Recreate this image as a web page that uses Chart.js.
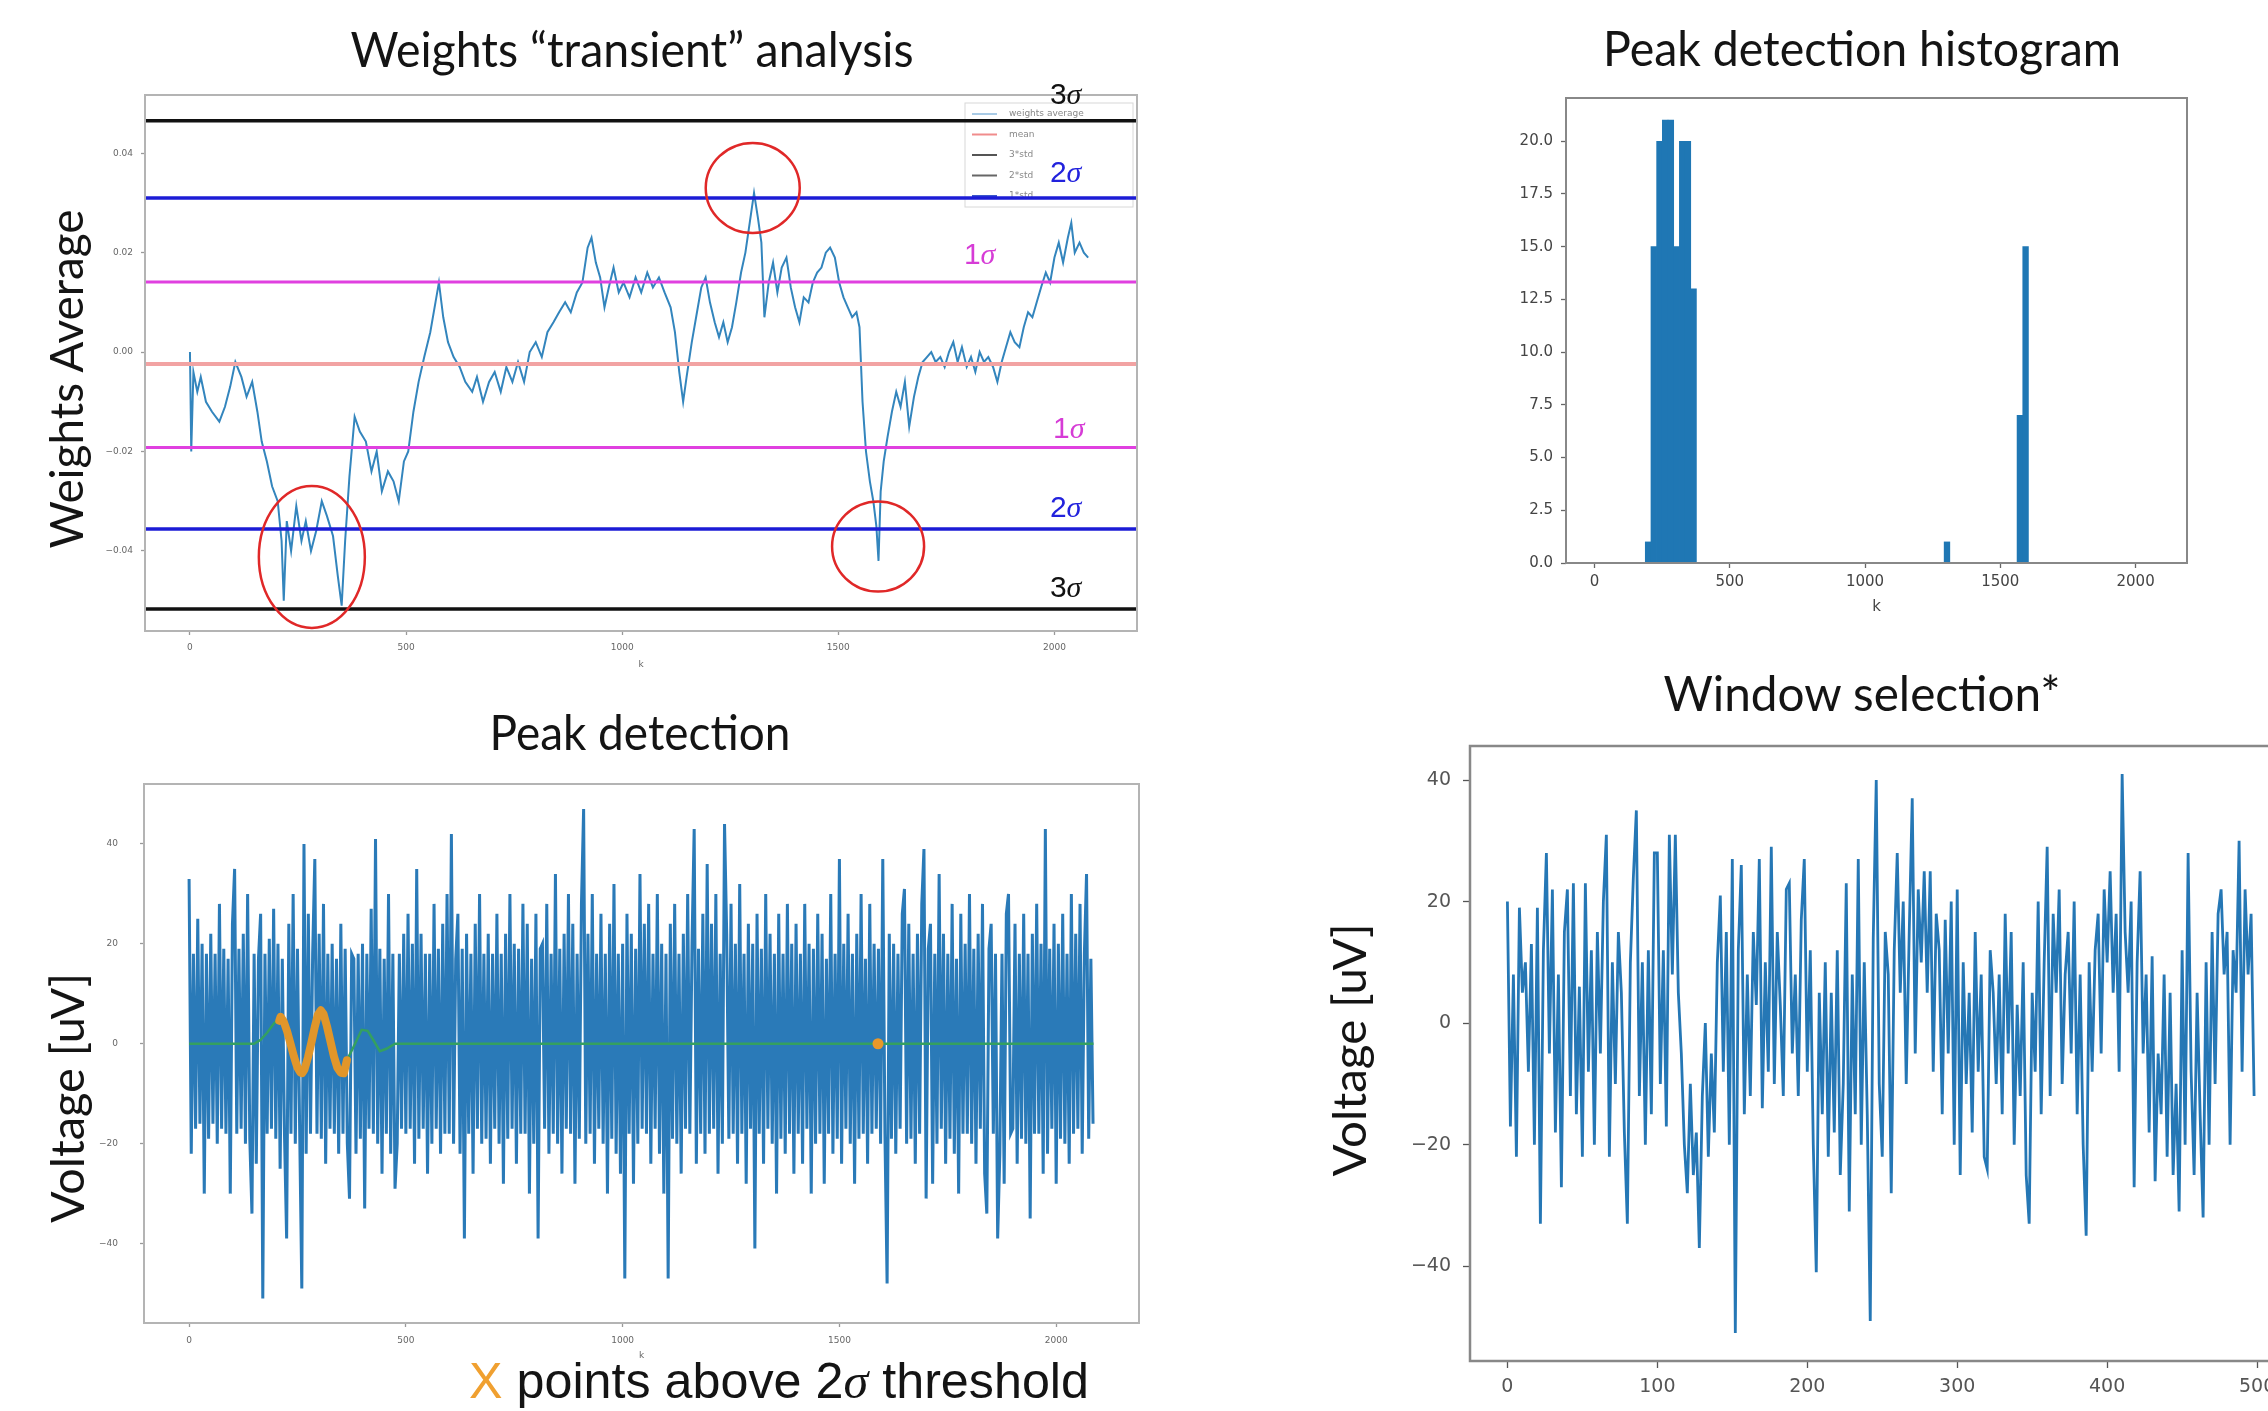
<!DOCTYPE html>
<html>
<head>
<meta charset="utf-8">
<script src="https://cdn.jsdelivr.net/npm/chart.js@4.4.1/dist/chart.umd.min.js"></script>
<style>
    html, body { margin: 0; padding: 0; background: #fff; }
    body { width: 2268px; height: 1411px; position: relative; overflow: hidden; }
    .panel { position: absolute; }
    .panel canvas { display: block; }
    #overlay { position: absolute; left: 0; top: 0; pointer-events: none; }
</style>
</head>
<body>
<div class="panel" style="left:0;top:60px"><canvas id="weights_chart" width="1150" height="630"></canvas></div>
<div class="panel" style="left:1450px;top:60px"><canvas id="hist_chart" width="800" height="580"></canvas></div>
<div class="panel" style="left:0;top:740px"><canvas id="peak_chart" width="1150" height="640"></canvas></div>
<div class="panel" style="left:1290px;top:700px"><canvas id="window_chart" width="1010" height="711"></canvas></div>

<svg id="overlay" width="2268" height="1411" xmlns="http://www.w3.org/2000/svg">
    <g font-family="Lato" fill="#141414" font-size="48">
        <text x="632" y="67" text-anchor="middle" textLength="563" lengthAdjust="spacingAndGlyphs">Weights “transient” analysis</text>
        <text x="1862" y="66" text-anchor="middle" textLength="518" lengthAdjust="spacingAndGlyphs">Peak detection histogram</text>
        <text x="640" y="750" text-anchor="middle" textLength="301" lengthAdjust="spacingAndGlyphs">Peak detection</text>
        <text x="1862" y="711" text-anchor="middle" textLength="397" lengthAdjust="spacingAndGlyphs">Window selection*</text>
        <text transform="translate(83 379) rotate(-90)" text-anchor="middle" font-size="47" textLength="339" lengthAdjust="spacingAndGlyphs">Weights Average</text>
        <text transform="translate(84 1098) rotate(-90)" text-anchor="middle" font-size="47" textLength="250" lengthAdjust="spacingAndGlyphs">Voltage [uV]</text>
        <text transform="translate(1366 1050) rotate(-90)" text-anchor="middle" font-size="47" textLength="253" lengthAdjust="spacingAndGlyphs">Voltage [uV]</text>
    </g>
    <text x="469" y="1398" font-family="Liberation Sans" font-size="50" fill="#141414" textLength="620" lengthAdjust="spacingAndGlyphs"><tspan fill="#f0a030">X</tspan> points above 2<tspan font-family="Liberation Serif" font-style="italic">σ</tspan> threshold</text>
</svg>

<script>
// weights "transient" analysis
const weightsK = [0, 3, 8, 17, 25, 37, 51, 68, 81, 93,
    105, 119, 131, 144, 156, 166, 178, 190, 203, 212,
    217, 224, 234, 246, 258, 268, 280, 292, 305, 317,
    331, 342, 351, 359, 369, 381, 393, 407, 420, 432,
    444, 458, 471, 483, 495, 505, 517, 529, 542, 556,
    568, 576, 586, 597, 610, 624, 637, 653, 664, 678,
    692, 705, 719, 732, 746, 759, 773, 786, 800, 814,
    827, 841, 854, 868, 881, 895, 908, 920, 929, 939,
    949, 959, 969, 980, 992, 1003, 1017, 1031, 1044, 1058,
    1071, 1085, 1098, 1112, 1122, 1132, 1141, 1149, 1161, 1173,
    1183, 1193, 1203, 1214, 1224, 1234, 1244, 1254, 1264, 1275,
    1285, 1295, 1305, 1314, 1322, 1329, 1339, 1349, 1359, 1369,
    1380, 1390, 1400, 1410, 1420, 1431, 1441, 1451, 1461, 1471,
    1481, 1492, 1502, 1512, 1522, 1532, 1542, 1549, 1556, 1564,
    1573, 1581, 1588, 1593, 1598, 1605, 1614, 1624, 1634, 1644,
    1654, 1664, 1675, 1685, 1695, 1705, 1715, 1725, 1736, 1746,
    1756, 1766, 1776, 1786, 1797, 1807, 1817, 1827, 1837, 1847,
    1858, 1868, 1878, 1888, 1898, 1908, 1919, 1929, 1939, 1949,
    1959, 1969, 1980, 1990, 2000, 2010, 2020, 2031, 2039, 2047,
    2058, 2068, 2078]
const weightsValues = [0.000, -0.020, -0.004, -0.008, -0.005, -0.010, -0.012, -0.014, -0.011, -0.007,
    -0.002, -0.005, -0.009, -0.006, -0.012, -0.018, -0.022, -0.027, -0.030, -0.038,
    -0.050, -0.034, -0.040, -0.031, -0.038, -0.034, -0.040, -0.036, -0.030, -0.033,
    -0.037, -0.045, -0.051, -0.038, -0.025, -0.013, -0.016, -0.018, -0.024, -0.020,
    -0.028, -0.024, -0.026, -0.030, -0.022, -0.020, -0.012, -0.006, -0.001, 0.004,
    0.010, 0.014, 0.007, 0.002, -0.001, -0.003, -0.006, -0.008, -0.005, -0.010,
    -0.006, -0.004, -0.008, -0.003, -0.006, -0.002, -0.006, 0.000, 0.002, -0.001,
    0.004, 0.006, 0.008, 0.010, 0.008, 0.012, 0.014, 0.021, 0.023, 0.018,
    0.015, 0.009, 0.013, 0.017, 0.012, 0.014, 0.011, 0.015, 0.012, 0.016,
    0.013, 0.015, 0.012, 0.009, 0.004, -0.004, -0.010, -0.005, 0.002, 0.008,
    0.013, 0.015, 0.010, 0.006, 0.003, 0.006, 0.002, 0.005, 0.010, 0.016,
    0.020, 0.026, 0.032, 0.027, 0.022, 0.007, 0.014, 0.018, 0.012, 0.017,
    0.019, 0.013, 0.009, 0.006, 0.011, 0.010, 0.014, 0.016, 0.017, 0.020,
    0.021, 0.019, 0.014, 0.011, 0.009, 0.007, 0.008, 0.005, -0.010, -0.020,
    -0.026, -0.030, -0.035, -0.042, -0.028, -0.022, -0.017, -0.012, -0.008, -0.011,
    -0.006, -0.015, -0.009, -0.005, -0.002, -0.001, 0.000, -0.002, -0.001, -0.003,
    0.000, 0.002, -0.002, 0.001, -0.003, -0.001, -0.004, 0.000, -0.002, -0.001,
    -0.003, -0.006, -0.002, 0.001, 0.004, 0.002, 0.001, 0.005, 0.008, 0.007,
    0.010, 0.013, 0.016, 0.014, 0.019, 0.022, 0.018, 0.023, 0.026, 0.020,
    0.022, 0.020, 0.019]
// 3σ, 2σ, 1σ, mean, -1σ, -2σ, -3σ
const sigmaLevels = [0.0465, 0.0310, 0.0141, -0.0024, -0.0192, -0.0356, -0.0517]
const weightsYTicks = [-0.04, -0.02, 0, 0.02, 0.04]
const kTicks = [0, 500, 1000, 1500, 2000]

// peak detection histogram
const histCenters = [198.5, 219.5, 240.5, 261.5, 282.5, 303.5, 324.5, 345.5, 366.5, 1303, 1572.5, 1593.5]
const histCounts = [1, 15, 20, 21, 21, 15, 20, 20, 13, 1, 7, 15]
const histYTicks = [0, 2.5, 5, 7.5, 10, 12.5, 15, 17.5, 20]

// peak detection (one value every 5 samples)
const peakStep = 5
const peakValues = [33, -22, 18, -17, 25, -16, 20, -30, 18, -19, 22, -16, 18, -20, 28, -17, 19, -18, 17, -30,
    24, 35, -18, 19, -17, 22, -20, 30, -19, -34, 18, -24, 17, 26, -51, 18, -18, 21, -17, 27,
    -19, 20, -25, 17, -18, -39, 24, -18, 30, -20, 19, -17, -49, 40, -22, 26, -18, 18, 37, -18,
    22, -19, 28, -24, 18, -17, 20, -18, 17, -22, 24, -18, 19, -20, -31, 18, 17, -22, 18, -19,
    20, -33, 18, -17, 27, -18, 41, -20, 19, -26, 17, -18, 30, -22, 18, -29, -20, 18, -17, 22,
    -18, 26, -17, 20, -24, 35, -19, 22, -17, 18, -26, 18, -20, 28, -17, 19, -22, 24, -18, 30,
    -18, 42, -20, 17, 26, -22, 19, -39, 22, -18, 18, -26, 24, -17, 30, -20, 18, -19, 22, -24,
    18, -17, 26, -20, 18, -28, 22, -19, 30, -17, 20, -24, 19, -18, 28, -18, 24, -30, 17, -20,
    26, -39, 19, 20, -17, 28, -22, 18, -18, 34, -20, 19, -26, 22, -17, 30, -18, 24, -28, 18,
    -19, 28, 47, -20, 22, -18, 30, -24, 18, -17, 26, -20, 18, -30, 24, -19, 32, -22, 18, -26,
    20, -47, 26, -18, 22, -28, 19, -20, 34, -17, 24, -18, 28, -24, 18, -17, 30, -22, 20, -30,
    18, -47, 24, -19, 28, -20, 18, -26, 22, -17, 30, -18, 20, 43, -24, 19, -18, 26, -22, 36,
    -18, 24, -17, 30, -26, 18, -20, 44, 22, -19, 28, -18, 20, -24, 32, -18, 18, -28, 24, -17,
    20, -41, 26, -18, 19, -24, 30, -17, 22, -20, 18, -30, 26, -19, 18, -22, 28, -18, 20, -26,
    24, -18, 18, -24, 28, -17, 20, -30, 19, -20, 26, -18, 22, -28, 17, -18, 30, -22, 18, -19,
    37, -24, 20, -17, 26, -20, 18, -28, 22, -19, 30, -18, 17, -24, 28, -18, 20, -17, 19, -20,
    37, -18, -48, 22, -19, 20, -22, 18, -17, 26, 31, -20, 24, -19, 18, -24, 22, -18, 28, 39,
    -31, 19, 24, -28, 18, -20, 34, -17, 22, -24, 18, -19, 28, -22, 17, -30, 26, -18, 20, -18,
    30, -20, 19, -24, 22, -17, 28, -26, -34, 19, 24, -18, 18, -39, -22, 18, -28, 26, 30, -18,
    -17, 24, -24, 18, -19, 26, -20, 18, -35, 22, -18, 28, -18, 20, -26, 43, -22, 19, -17, 24,
    -28, 20, -19, 26, -20, 18, -24, 30, -18, 22, -17, 28, -22, 18, 34, -19, 17, -16]
const greenK = [0, 150, 165, 180, 195, 211, 234, 261, 282, 304, 334, 357, 364, 380, 398, 412, 426, 440, 455, 475, 2086]
const greenValues = [0, 0, 0.8, 2.2, 4.0, 5.4, 0.0, -5.9, 0.2, 6.7, -2.5, -5.9, -3.3, -0.5, 2.8, 2.6, 0.6, -1.5, -1.0, 0, 0]
const orangeK = [208, 211, 218, 226, 234, 242, 250, 257, 261, 266, 274, 282, 290, 297, 304, 310, 318, 326, 334, 342, 350, 357, 364]
const orangeValues = [4.6, 5.4, 4.5, 2.5, 0.0, -2.6, -4.8, -5.8, -5.9, -5.2, -2.8, 0.2, 3.4, 5.8, 6.7, 6.0, 3.5, 0.5, -2.5, -4.8, -5.8, -5.9, -3.3]
const orangeDotK = [1589]
const orangeDotValues = [0]
const voltageTicks = [-40, -20, 0, 20, 40]

// window selection (one value every 2 samples)
const windowStep = 2
const windowValues = [20, -17, 8, -22, 19, 5, 10, -8, 13, -20,
    19, -33, 12, 28, -5, 22, -18, 8, -27, 15,
    22, -12, 23, -15, 6, -22, 23, -8, 12, -20,
    15, -5, 20, 31, -22, 10, -10, 15, 5, -18,
    -33, 10, 24, 35, -12, 10, -20, 12, -15, 28,
    28, -10, 12, -17, 31, 8, 31, 5, -5, -20,
    -28, -10, -25, -18, -37, -12, 0, -22, -5, -18,
    10, 21, -8, 15, -20, 27, -51, 12, 26, -15,
    8, -12, 15, 3, 27, -14, 10, -8, 29, -10,
    15, 3, -12, 22, 23, -5, 8, -12, 17, 27,
    -8, 12, -20, -41, 5, -15, 10, -22, 5, -18,
    12, -25, -10, 23, -31, 8, -15, 27, -20, 10,
    -15, -49, 14, 40, -10, -22, 15, 8, -28, 12,
    28, 5, 20, -10, 15, 37, -5, 22, 10, 25,
    5, 25, -8, 18, 12, -15, 17, -5, 20, -20,
    22, -25, 10, -10, 5, -18, 15, -8, 8, -22,
    -24, 12, 5, -10, 8, -15, 18, -5, 15, -20,
    3, -12, 10, -25, -33, 5, -8, 20, -15, 10,
    29, -12, 18, 5, 22, -10, 8, 15, -5, 20,
    -15, 8, -20, -35, 10, -8, 12, 18, -5, 22,
    10, 25, 5, 18, -8, 41, 15, 5, 20, -27,
    10, 25, -5, 8, -18, 11, -26, -5, -15, 8,
    -22, 5, -25, -10, -31, 12, -20, 28, -8, -25,
    5, -15, -32, 10, -20, 15, -10, 18, 22, 8,
    15, -20, 12, 5, 30, -8, 22, 8, 18, -12]
const windowXTicks = [0, 100, 200, 300, 400, 500]


Chart.defaults.font.family = "'DejaVu Sans', sans-serif"
Chart.defaults.animation = false
Chart.defaults.events = []

const sigmaStyles = [
    {color: '#111111', width: 3.5},
    {color: '#1c1cd6', width: 3.5},
    {color: '#e040e0', width: 3},
    {color: '#f2a3a3', width: 4},
    {color: '#e040e0', width: 3},
    {color: '#1c1cd6', width: 3.5},
    {color: '#111111', width: 3.5},
]
const sigmaLabels = [
    {level: 0, k: 2026, digit: '3', dy: 17, color: '#111'},
    {level: 1, k: 2026, digit: '2', dy: 16, color: '#2222dd'},
    {level: 2, k: 1827, digit: '1', dy: 18, color: '#d63cd6'},
    {level: 4, k: 2033, digit: '1', dy: 10, color: '#d63cd6'},
    {level: 5, k: 2026, digit: '2', dy: 12, color: '#2222dd'},
    {level: 6, k: 2026, digit: '3', dy: 12, color: '#111'},
]
const redCircles = [
    {k: 1302, v: 0.0330, rx: 47, ry: 45},
    {k: 282, v: -0.0412, rx: 53, ry: 71},
    {k: 1592, v: -0.0391, rx: 46, ry: 45},
]
const legendItems = [
    ['weights average', '#a9cbe6'],
    ['mean', '#f08c8c'],
    ['3*std', '#555'],
    ['2*std', '#666'],
    ['1*std', '#3a55cc'],
]

const toPoints = (xs, ys) => xs.map((x, i) => ({x: x, y: ys[i]}))
const stepPoints = (step, ys) => ys.map((y, i) => ({x: i * step, y: y}))
const minus = v => (v < 0 ? '\u2212' : '') + Math.abs(v)

function axis(min, max, tickValues, format, o) {
    return {
        type: 'linear', min: min, max: max, bounds: 'data', offset: false,
        afterBuildTicks: s => { s.ticks = tickValues.map(v => ({value: v})) },
        afterFit: s => {
            if (o.width) s.width = o.width
            if (o.height) s.height = o.height
        },
        border: {display: false},
        grid: {offset: false, drawOnChartArea: false, drawTicks: true, tickLength: o.tick, tickColor: o.tickColor, tickWidth: 1.3},
        ticks: {callback: format, autoSkip: false, maxRotation: 0, padding: o.pad, color: o.color, font: {size: o.size}},
        title: o.title
            ? {display: true, text: o.title, color: o.color, font: {size: o.size}, padding: {top: 0, bottom: o.titlePad}}
            : {display: false}
    }
}

const framePlugin = {
    id: 'frame',
    afterDatasetsDraw(chart, args, opts) {
        const {ctx, chartArea: a} = chart
        ctx.save()
        ctx.strokeStyle = opts.color
        ctx.lineWidth = opts.width
        ctx.strokeRect(a.left, a.top, a.right - a.left, a.bottom - a.top)
        ctx.restore()
    }
}

const weightsNotes = {
    id: 'weightsNotes',
    beforeDatasetsDraw(chart) {
        const {ctx, chartArea: a} = chart
        const x0 = a.right - 172, y0 = a.top + 8
        ctx.save()
        ctx.fillStyle = '#fff'
        ctx.strokeStyle = '#d8d8d8'
        ctx.lineWidth = 1
        ctx.fillRect(x0, y0, 168, 104)
        ctx.strokeRect(x0, y0, 168, 104)
        ctx.font = "9px 'DejaVu Sans'"
        ctx.textBaseline = 'middle'
        legendItems.forEach(([label, color], i) => {
            const y = y0 + 11 + i * 20.5
            ctx.strokeStyle = color
            ctx.lineWidth = 2
            ctx.beginPath()
            ctx.moveTo(x0 + 7, y)
            ctx.lineTo(x0 + 32, y)
            ctx.stroke()
            ctx.fillStyle = '#888'
            ctx.fillText(label, x0 + 44, y)
        })
        ctx.restore()
    },
    afterDatasetsDraw(chart) {
        const {ctx, scales: {x, y}} = chart
        ctx.save()
        ctx.textBaseline = 'alphabetic'
        sigmaLabels.forEach(l => {
            ctx.font = "30px 'Liberation Sans'"
            const wd = ctx.measureText(l.digit).width
            ctx.font = "italic 30px 'Liberation Serif'"
            const ws = ctx.measureText('σ').width
            const left = x.getPixelForValue(l.k) - (wd + ws) / 2
            const base = y.getPixelForValue(sigmaLevels[l.level]) - l.dy
            ctx.fillStyle = l.color
            ctx.font = "30px 'Liberation Sans'"
            ctx.fillText(l.digit, left, base)
            ctx.font = "italic 30px 'Liberation Serif'"
            ctx.fillText('σ', left + wd, base)
        })
        ctx.strokeStyle = '#e02828'
        ctx.lineWidth = 2.5
        redCircles.forEach(c => {
            ctx.beginPath()
            ctx.ellipse(x.getPixelForValue(c.k), y.getPixelForValue(c.v), c.rx, c.ry, 0, 0, Math.PI * 2)
            ctx.stroke()
        })
        ctx.restore()
    }
}

const kMin = -104, kMax = 2191
const smallAxis = {tick: 4, tickColor: '#999', color: '#666', size: 9}

// top left
new Chart(document.querySelector('#weights_chart'), {
    type: 'line',
    data: {
        datasets: [{
            data: toPoints(weightsK, weightsValues),
            borderColor: '#3385bd', borderWidth: 2, pointRadius: 0, order: 2
        }].concat(sigmaLevels.map((v, i) => ({
            data: [{x: kMin, y: v}, {x: kMax, y: v}],
            borderColor: sigmaStyles[i].color, borderWidth: sigmaStyles[i].width, pointRadius: 0, order: 1
        })))
    },
    options: {
        responsive: false,
        layout: {padding: {left: 0, top: 35, right: 13, bottom: 0}},
        plugins: {legend: {display: false}, tooltip: {enabled: false}, frame: {color: '#b4b4b4', width: 2}},
        scales: {
            x: axis(kMin, kMax, kTicks, v => String(v), {...smallAxis, height: 59, pad: 7, title: 'k', titlePad: 20}),
            y: axis(-0.0561, 0.0517, weightsYTicks, v => (v < 0 ? '\u2212' : '') + Math.abs(v).toFixed(2), {...smallAxis, width: 145, pad: 8})
        }
    },
    plugins: [framePlugin, weightsNotes]
})

// top right
new Chart(document.querySelector('#hist_chart'), {
    type: 'bar',
    data: {
        datasets: [{
            data: toPoints(histCenters, histCounts),
            backgroundColor: '#1f77b4', borderWidth: 0, barPercentage: 1, categoryPercentage: 1
        }]
    },
    options: {
        responsive: false,
        layout: {padding: {left: 0, top: 38, right: 63, bottom: 0}},
        plugins: {legend: {display: false}, tooltip: {enabled: false}, frame: {color: '#888', width: 2}},
        scales: {
            x: axis(-105, 2190, kTicks, v => String(v), {tick: 5, tickColor: '#666', color: '#444', size: 15, height: 77, pad: 5, title: 'k', titlePad: 24}),
            y: axis(0, 22.05, histYTicks, v => v.toFixed(1), {tick: 5, tickColor: '#666', color: '#444', size: 15, width: 116, pad: 8})
        }
    },
    plugins: [framePlugin]
})

// bottom left
new Chart(document.querySelector('#peak_chart'), {
    type: 'line',
    data: {
        datasets: [
            {data: toPoints(orangeDotK, orangeDotValues), showLine: false, pointRadius: 5.5, pointBackgroundColor: '#e8982a', pointBorderWidth: 0, order: 0},
            {data: toPoints(orangeK, orangeValues), borderColor: '#e1962a', borderWidth: 8, borderCapStyle: 'round', borderJoinStyle: 'round', pointRadius: 0, order: 0},
            {data: toPoints(greenK, greenValues), borderColor: '#34a060', borderWidth: 2.5, pointRadius: 0, order: 1},
            {data: stepPoints(peakStep, peakValues), borderColor: '#2a7ab8', borderWidth: 3, pointRadius: 0, order: 2}
        ]
    },
    options: {
        responsive: false,
        layout: {padding: {left: 0, top: 44, right: 11, bottom: 0}},
        plugins: {legend: {display: false}, tooltip: {enabled: false}, frame: {color: '#b4b4b4', width: 2}},
        scales: {
            x: axis(kMin, kMax, kTicks, v => String(v), {...smallAxis, height: 57, pad: 8, title: 'k', titlePad: 19}),
            y: axis(-55.9, 52, voltageTicks, minus, {...smallAxis, width: 144, pad: 22})
        }
    },
    plugins: [framePlugin]
})

// bottom right
new Chart(document.querySelector('#window_chart'), {
    type: 'line',
    data: {
        datasets: [{
            data: stepPoints(windowStep, windowValues),
            borderColor: '#2577b5', borderWidth: 2.8, pointRadius: 0
        }]
    },
    options: {
        responsive: false,
        layout: {padding: {left: 0, top: 46, right: 7, bottom: 0}},
        plugins: {legend: {display: false}, tooltip: {enabled: false}, frame: {color: '#888', width: 2.5}},
        scales: {
            x: axis(-24.95, 523.95, windowXTicks, v => String(v), {tick: 7, tickColor: '#555', color: '#555', size: 19, height: 50, pad: 8}),
            y: axis(-55.6, 45.6, voltageTicks, minus, {tick: 7, tickColor: '#555', color: '#555', size: 19, width: 180, pad: 12})
        }
    },
    plugins: [framePlugin]
})
</script>
</body>
</html>
